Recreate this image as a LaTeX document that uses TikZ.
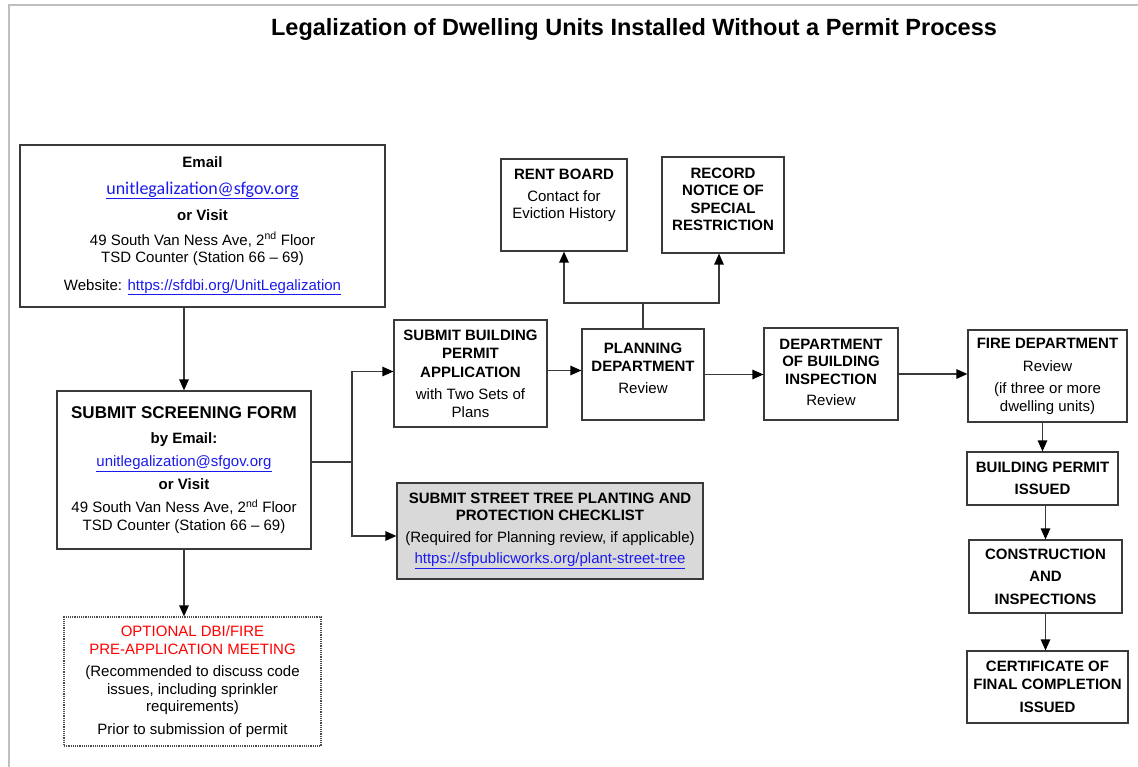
\documentclass[tikz,border=0pt]{standalone}
\usepackage{fontspec}
\setmainfont{Liberation Sans}
\newfontfamily\calfont{Carlito}
\usetikzlibrary{arrows.meta}
\definecolor{linkblue}{HTML}{1A1AEE}
\definecolor{boxline}{HTML}{3A3A3A}
\newcommand\bodyfs{\fontsize{15}{17.5}\selectfont}
\newcommand\lnk[1]{\textcolor{linkblue}{\underline{#1}}}
\begin{document}
\begin{tikzpicture}[x=1pt,y=-1pt,
  box/.style={draw=boxline,line width=1.2pt,inner sep=0pt,align=center,font=\bodyfs},
  conn/.style={draw=boxline,line width=1.2pt},
  arr/.style={conn,-{Triangle[length=11pt,width=9.5pt,fill=black,color=black]}}]
\useasboundingbox (0,0) rectangle (1138,767);
\draw[black!25,line width=2pt] (9,767) -- (9,5) -- (1138,5);
\node[font=\fontsize{23.5}{26}\selectfont\bfseries] (title) at (634,29)
  {Legalization of Dwelling Units Installed Without a Permit Process};

\node[box,minimum width=365pt,minimum height=162pt] (email) at (202.5,226)
  {\textbf{Email}\\[9pt]
   {\calfont\fontsize{18}{20}\selectfont\lnk{unitlegalization@sfgov.org}}\\[9pt]
   \textbf{or Visit}\\[7pt]
   49 South Van Ness Ave, 2\textsuperscript{nd} Floor\\
   TSD Counter (Station 66 -- 69)\\[10pt]
   Website: \lnk{https://sfdbi.org/UnitLegalization}};

\node[box,minimum width=254pt,minimum height=158pt] (screen) at (184,470)
  {{\fontsize{17}{19}\selectfont\bfseries SUBMIT SCREENING FORM}\\[7pt]
   \textbf{by Email:}\\[6pt]
   \lnk{unitlegalization@sfgov.org}\\[5pt]
   \textbf{or Visit}\\[6pt]
   49 South Van Ness Ave, 2\textsuperscript{nd} Floor\\
   TSD Counter (Station 66 -- 69)};

\node[box,draw=black!70,densely dotted,minimum width=257pt,minimum height=129pt] (opt) at (192.5,681.5)
  {\textcolor{red}{OPTIONAL DBI/FIRE}\\
   \textcolor{red}{PRE-APPLICATION MEETING}\\[5pt]
   (Recommended to discuss code\\
   issues, including sprinkler\\
   requirements)\\[5pt]
   Prior to submission of permit};

\node[box,minimum width=126pt,minimum height=92pt] (rent) at (564,205)
  {\textbf{RENT BOARD}\\[4pt]
   Contact for\\
   Eviction History\\[4pt]\mbox{}};

\node[box,minimum width=122pt,minimum height=96pt] (rec) at (723,205)
  {\fontsize{15}{18}\selectfont\textbf{RECORD}\\
   \textbf{NOTICE OF}\\
   \textbf{SPECIAL}\\
   \textbf{RESTRICTION}\\[-6pt]\mbox{}};

\node[box,minimum width=153pt,minimum height=107pt] (bpa) at (470.5,373.5)
  {\textbf{SUBMIT BUILDING}\\[1pt]
   \textbf{PERMIT}\\[1pt]
   \textbf{APPLICATION}\\[5pt]
   with Two Sets of\\
   Plans};

\node[box,minimum width=122pt,minimum height=91pt] (plan) at (643,374.5)
  {\textbf{PLANNING}\\[0.5pt]
   \textbf{DEPARTMENT}\\[5pt]
   Review\\[-5pt]\mbox{}};

\node[box,minimum width=134pt,minimum height=92pt] (dbi) at (831,374)
  {\textbf{DEPARTMENT}\\
   \textbf{OF BUILDING}\\
   \textbf{INSPECTION}\\[4pt]
   Review\\[-14pt]\mbox{}};

\node[box,minimum width=159pt,minimum height=92pt] (fire) at (1047.5,376)
  {\textbf{FIRE DEPARTMENT}\\[6pt]
   Review\\[4.5pt]
   (if three or more\\
   dwelling units)};

\node[box,minimum width=151pt,minimum height=53pt] (bpi) at (1042.5,478.5)
  {\textbf{BUILDING PERMIT}\\[5pt]
   \textbf{ISSUED}};

\node[box,minimum width=153pt,minimum height=73pt] (cons) at (1045.5,576.5)
  {\textbf{CONSTRUCTION}\\[5pt]
   \textbf{AND}\\[5pt]
   \textbf{INSPECTIONS}};

\node[box,minimum width=161pt,minimum height=72pt] (cert) at (1047.5,687)
  {\textbf{CERTIFICATE OF}\\
   \textbf{FINAL COMPLETION}\\[6pt]
   \textbf{ISSUED}};

\node[box,fill=black!15,minimum width=306pt,minimum height=96pt] (tree) at (550,531)
  {\textbf{SUBMIT STREET TREE PLANTING AND}\\
   \textbf{PROTECTION CHECKLIST}\\[4pt]
   (Required for Planning review, if applicable)\\[4pt]
   \lnk{https://sfpublicworks.org/plant-street-tree}};

% connectors
\draw[arr] (screen.north |- email.south) -- (screen.north);
\draw[arr] (screen.south) -- (screen.south |- opt.north);
\coordinate (split) at (352,462);
\draw[conn] (screen.east |- split) -- (split);
\draw[arr] (split) |- ([yshift=2pt]bpa.west);
\draw[arr] (split) |- ([yshift=-5pt]tree.west);
\draw[arr] ([yshift=3pt]bpa.east) -- ([yshift=3pt]bpa.east -| plan.west);
\coordinate (fork) at (643,303);
\draw[conn] (plan.north) -- (fork);
\draw[arr] (fork) -| (rent.south);
\draw[arr] (fork) -| ([xshift=-4pt]rec.south);
\draw[arr] (plan.east) -- (plan.east -| dbi.west);
\draw[arr] (dbi.east) -- (dbi.east -| fire.west);
\draw[arr] (fire.south -| bpi.north) -- (bpi.north);
\draw[arr] (bpi.south -| cons.north) -- (cons.north);
\draw[arr] (cons.south) -- (cons.south |- cert.north);
\end{tikzpicture}
\end{document}
